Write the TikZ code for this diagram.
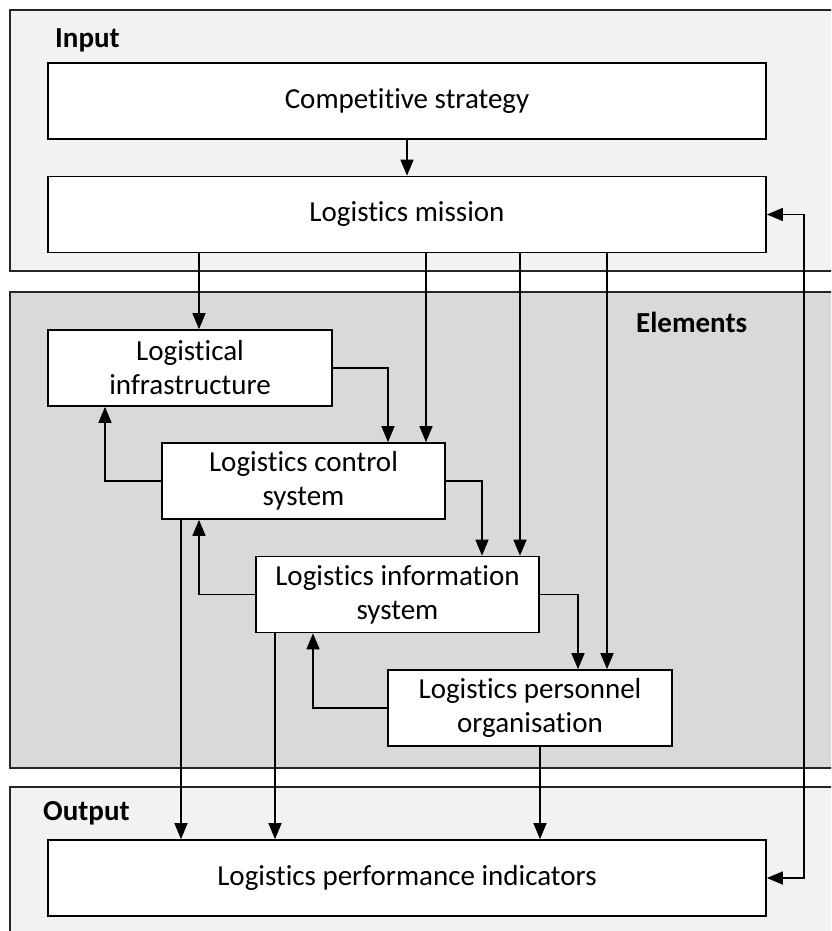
\documentclass[tikz,border=0pt]{standalone}
\usepackage{fontspec}
\setmainfont{Carlito}[Ligatures=NoCommon]
\usetikzlibrary{arrows.meta}
\definecolor{panellight}{RGB}{242,242,242}
\definecolor{paneldark}{RGB}{217,217,217}
\begin{document}
\begin{tikzpicture}[x=1pt,y=-1pt,
  box/.style={draw=black, fill=white, line width=1.7pt, inner sep=0pt, align=center,
    font=\fontsize{29}{34}\selectfont},
  panel/.style={draw=black!85, line width=1.5pt},
  arr/.style={line width=1.5pt, -{Triangle[length=16pt,width=13pt]}},
  dblarr/.style={line width=1.5pt, {Triangle[length=16pt,width=13pt]}-{Triangle[length=16pt,width=13pt]}},
  lbl/.style={font=\fontsize{29}{34}\selectfont\bfseries, anchor=west, inner sep=0pt}]
\useasboundingbox (0,0) rectangle (831,931);
\clip (0,0) rectangle (831,931);
\fill[white] (0,0) rectangle (831,931);

% panels
\draw[panel, fill=panellight] (10,10) rectangle (850,271);
\draw[panel, fill=paneldark] (10,292) rectangle (850,768);
\draw[panel, fill=panellight] (10,787) rectangle (850,960);

\node[lbl] (input) at (55,40) {Input};
\node[lbl] (elements) at (636,322) {Elements};
\node[lbl] (output) at (43,813) {Output};

% column coordinates
\coordinate (cA) at (105,0);
\coordinate (cB) at (181,0);
\coordinate (cC) at (199,0);
\coordinate (cD) at (275,0);
\coordinate (cE) at (313,0);
\coordinate (cF) at (388,0);
\coordinate (cG) at (407,0);
\coordinate (cH) at (426,0);
\coordinate (cI) at (482,0);
\coordinate (cJ) at (520,0);
\coordinate (cK) at (540,0);
\coordinate (cL) at (578,0);
\coordinate (cM) at (607,0);
\coordinate (cR) at (804,0);

% boxes
\node[box, minimum width=718pt, minimum height=76pt] (cs) at (407,101) {Competitive strategy};
\node[box, minimum width=718pt, minimum height=76pt] (lm) at (407,214.5) {Logistics mission};
\node[box, minimum width=284pt, minimum height=76pt] (li) at (190,368) {Logistical\\infrastructure};
\node[box, minimum width=283pt, minimum height=76pt] (lcs) at (303.5,481) {Logistics control\\system};
\node[box, minimum width=283pt, minimum height=76pt] (lis) at (397.5,594.5) {Logistics information\\system};
\node[box, minimum width=284pt, minimum height=76pt] (lpo) at (530,708) {Logistics personnel\\organisation};
\node[box, minimum width=718pt, minimum height=76pt] (lpi) at (407,878) {Logistics performance indicators};

% connectors
\draw[arr] (cs.south -| cG) -- (lm.north -| cG);
\draw[arr] (lm.south -| cC) -- (li.north -| cC);
\draw[arr] (lm.south -| cH) -- (lcs.north -| cH);
\draw[arr] (lm.south -| cJ) -- (lis.north -| cJ);
\draw[arr] (lm.south -| cM) -- (lpo.north -| cM);

\draw[arr] (li.east) -| (lcs.north -| cF);
\draw[arr] (lcs.east) -| (lis.north -| cI);
\draw[arr] (lis.east) -| (lpo.north -| cL);

\draw[arr] (lcs.west) -| (li.south -| cA);
\draw[arr] (lis.west) -| (lcs.south -| cC);
\draw[arr] (lpo.west) -| (lis.south -| cE);

\draw[arr] (lcs.south -| cB) -- (lpi.north -| cB);
\draw[arr] (lis.south -| cD) -- (lpi.north -| cD);
\draw[arr] (lpo.south -| cK) -- (lpi.north -| cK);

\draw[dblarr] (lm.east) -- (lm.east -| cR) -- (lpi.east -| cR) -- (lpi.east);
\end{tikzpicture}
\end{document}
